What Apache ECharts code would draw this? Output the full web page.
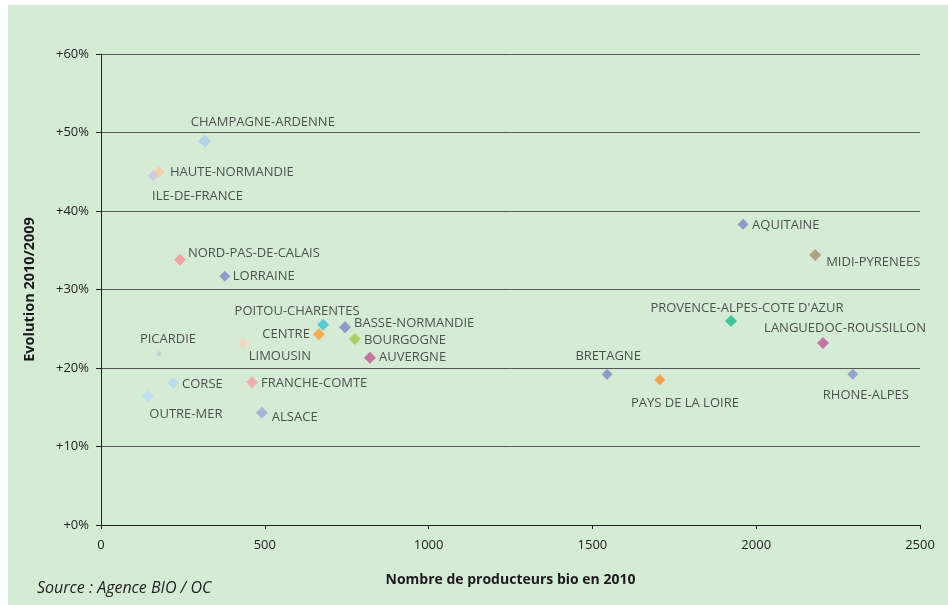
<!DOCTYPE html>
<html>
<head>
<meta charset="utf-8">
<script src="https://cdn.jsdelivr.net/npm/echarts@6/dist/echarts.min.js"></script>
<style>
html,body{margin:0;padding:0;background:#fff;}
#chart{width:948px;height:605px;}
</style>
</head>
<body>
<div id="chart"></div>
<script>
// ---- Data ----
const regions = ["CHAMPAGNE-ARDENNE","HAUTE-NORMANDIE","ILE-DE-FRANCE","NORD-PAS-DE-CALAIS","LORRAINE",
  "POITOU-CHARENTES","BASSE-NORMANDIE","CENTRE","BOURGOGNE","LIMOUSIN","AUVERGNE","PICARDIE",
  "CORSE","FRANCHE-COMTE","OUTRE-MER","ALSACE","AQUITAINE","MIDI-PYRENEES",
  "PROVENCE-ALPES-COTE D'AZUR","LANGUEDOC-ROUSSILLON","BRETAGNE","PAYS DE LA LOIRE","RHONE-ALPES"];
const producers = [317,177,159,241,378,678,745,665,775,433,821,177,220,461,143,491,1960,2180,1923,2204,1545,1706,2295];
const evolution = [48.9,45.0,44.5,33.8,31.7,25.5,25.2,24.3,23.7,23.1,21.3,21.8,18.1,18.2,16.4,14.3,38.3,34.4,26.0,23.2,19.2,18.5,19.2];
const xTicks = [0,500,1000,1500,2000,2500];
const yTicks = [0,10,20,30,40,50,60];

// ---- Styles (not data) ----
const colors = ["#a9cdec","#f9c89b","#c9c5e2","#f4939b","#7f87c0",
  "#3cc0d2","#7f84c0","#f8a030","#a2c84a","#f9d2b4","#c05892","#c8c9d8",
  "#b2d8f2","#f5a0a8","#b8dcf4","#a0a5d2","#8088c2","#a88f6e",
  "#20b890","#c0589a","#8088c2","#f88c30","#8890c8"];
const sizes = [13,11,11,12,11,12,12,12,12,10,12,6,12,12,12,12,11,12,12,12,11,11,11];
// [align, dx, dy] label placement relative to marker center
const labelPlace = [["c",58,-19],["l",11,1],["l",-1,21],["l",8,-6],["l",8,0],
  ["c",-26,-14],["l",9,-4],["r",-9,0],["l",9,1],["c",37,13],["l",9,0],["c",9,-15],
  ["l",9,1],["l",9,1],["c",38,18],["l",10,5],["l",9,1],["l",11,7],
  ["c",16,-13],["c",22,-15],["c",1,-18],["c",25,24],["c",13,21]];

const alignMap = {l:"left", c:"center", r:"right"};
const points = regions.map((name, i) => {
  const s = sizes[i];
  return {
    name: name,
    value: [producers[i], evolution[i]],
    symbolSize: s,
    itemStyle: {color: colors[i]},
    label: {
      show: true,
      position: [s / 2 + labelPlace[i][1], s / 2 + labelPlace[i][2]],
      formatter: name,
      align: alignMap[labelPlace[i][0]],
      verticalAlign: "middle"
    }
  };
});

const chart = echarts.init(document.getElementById("chart"), null, {renderer: "canvas"});
const FONT = "'Open Sans', 'Noto Sans', sans-serif";
chart.setOption({
  backgroundColor: "#ffffff",
  animation: false,
  graphic: [
    {type: "rect", z: -10, silent: true, shape: {x: 8, y: 5, width: 940, height: 600}, style: {fill: "#d6ebd6"}},
    {type: "text", left: 37, top: 580, style: {text: "Source : Agence BIO / OC", font: "italic 16px " + FONT, fill: "#222"}}
  ],
  grid: {left: 101, right: 28, top: 54, bottom: 80, containLabel: false},
  xAxis: {
    type: "value", min: xTicks[0], max: xTicks[xTicks.length - 1], interval: 500,
    name: "Nombre de producteurs bio en 2010", nameLocation: "middle", nameGap: 48,
    nameTextStyle: {fontFamily: FONT, fontWeight: "bold", fontSize: 14, color: "#1a1a1a"},
    axisLine: {show: true, lineStyle: {color: "#222", width: 1}},
    axisTick: {show: true, length: 4, lineStyle: {color: "#222"}},
    axisLabel: {margin: 14, fontFamily: FONT, fontSize: 13, color: "#222", formatter: v => String(v)},
    splitLine: {show: false}
  },
  yAxis: {
    type: "value", min: yTicks[0], max: yTicks[yTicks.length - 1], interval: 10,
    name: "Evolution 2010/2009", nameLocation: "middle", nameGap: 64, nameRotate: 90,
    nameTextStyle: {fontFamily: FONT, fontWeight: "bold", fontSize: 14.5, color: "#1a1a1a"},
    axisLine: {show: true, lineStyle: {color: "#222", width: 1}},
    axisTick: {show: true, length: 5, lineStyle: {color: "#222"}},
    axisLabel: {margin: 12, fontFamily: FONT, fontSize: 13, color: "#222",
      formatter: v => "+" + v + "%"},
    splitLine: {show: true, lineStyle: {color: "#555", width: 1}}
  },
  series: [{
    type: "scatter",
    symbol: "diamond",
    data: points,
    label: {fontFamily: FONT, fontSize: 13, color: "#2a2a2a"},
    labelLayout: {hideOverlap: false}
  }]
});
</script>
</body>
</html>
